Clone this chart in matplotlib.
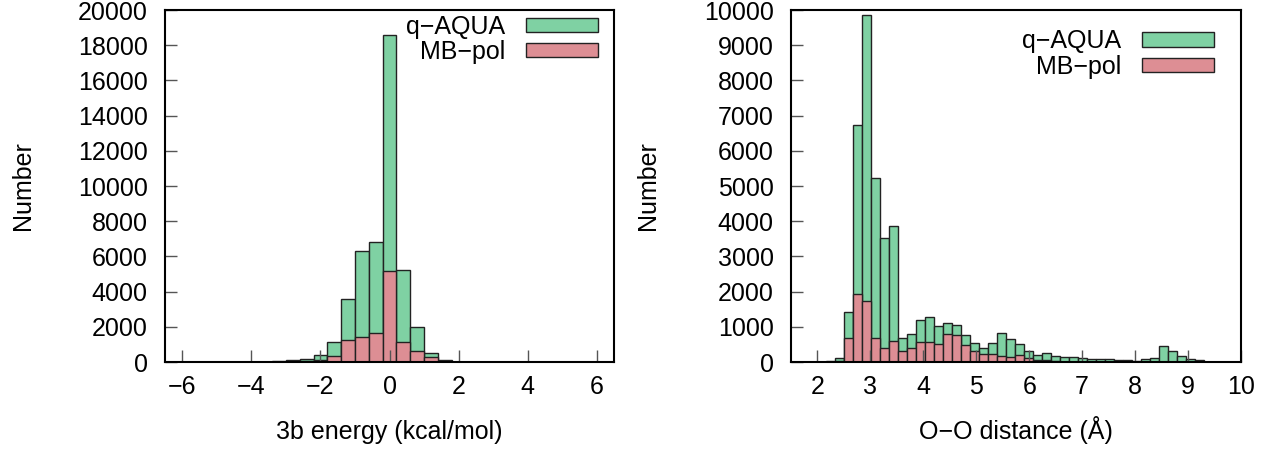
import matplotlib.pyplot as plt
import numpy as np

plt.rcParams['font.family'] = ['Liberation Sans', 'DejaVu Sans']

# left panel: 3b energy histogram (bin centers, width 0.4)
e_centers = [-4.0, -3.6, -3.2, -2.8, -2.4, -2.0, -1.6, -1.2, -0.8, -0.4, 0.0, 0.4, 0.8, 1.2, 1.6]
e_qaqua = [15, 25, 40, 110, 170, 380, 1120, 3560, 6290, 6800, 18580, 5230, 1970, 490, 95]
e_mbpol = [5, 10, 15, 40, 55, 95, 320, 1230, 1440, 1650, 5150, 1140, 610, 265, 50]

# right panel: O-O distance histogram (left bin edges, width 0.17)
d_edges = [2.17, 2.34, 2.51, 2.68, 2.85, 3.02, 3.19, 3.36, 3.53, 3.70, 3.87, 4.04, 4.21, 4.38,
           4.55, 4.72, 4.89, 5.06, 5.23, 5.40, 5.57, 5.74, 5.91, 6.08, 6.25, 6.42, 6.59, 6.76,
           6.93, 7.10, 7.27, 7.44, 7.61, 7.78, 7.95, 8.12, 8.29, 8.46, 8.63, 8.80, 8.97, 9.14]
d_qaqua = [30, 100, 1430, 6720, 9860, 5230, 3520, 3870, 690, 790, 1200, 1270, 1025, 1120,
           1045, 760, 530, 410, 530, 825, 645, 500, 310, 200, 245, 160, 130, 130,
           115, 95, 85, 75, 50, 50, 30, 75, 105, 455, 300, 160, 75, 50]
d_mbpol = [10, 40, 670, 1935, 1730, 690, 410, 600, 320, 390, 560, 560, 520, 790,
           760, 475, 310, 240, 220, 170, 140, 190, 100, 50, 50, 20, 10, 10,
           5, 5, 5, 5, 3, 3, 2, 3, 5, 10, 8, 5, 3, 2]

green = '#7fd1a3'
red = '#dd8e94'
fs = 18

fig = plt.figure(figsize=(12.82, 4.54), dpi=100)
ax1 = fig.add_axes([165 / 1282, 92 / 454, 449 / 1282, 352 / 454])
ax2 = fig.add_axes([791 / 1282, 92 / 454, 450 / 1282, 352 / 454])

ax1.bar(e_centers, e_qaqua, width=0.4, color=green, edgecolor='#222222', linewidth=1, label='q\u2212AQUA')
ax1.bar(e_centers, e_mbpol, width=0.4, color=red, edgecolor='#222222', linewidth=1, label='MB\u2212pol')
ax1.set_xlim(-6.5, 6.5)
ax1.set_ylim(0, 20000)
ax1.set_xticks([-6, -4, -2, 0, 2, 4, 6])
ax1.set_yticks(np.arange(0, 20001, 2000))
ax1.set_xlabel('3b energy (kcal/mol)')
ax1.set_ylabel('Number')

ax2.bar(d_edges, d_qaqua, width=0.17, align='edge', color=green, edgecolor='#222222', linewidth=1, label='q\u2212AQUA')
ax2.bar(d_edges, d_mbpol, width=0.17, align='edge', color=red, edgecolor='#222222', linewidth=1, label='MB\u2212pol')
ax2.set_xlim(1.5, 10)
ax2.set_ylim(0, 10000)
ax2.set_xticks([2, 3, 4, 5, 6, 7, 8, 9, 10])
ax2.set_yticks(np.arange(0, 10001, 1000))
ax2.set_xlabel('O\u2212O distance (\u00c5)')
ax2.set_ylabel('Number')

leg_pos = {ax1: (0.9637, 0.986), ax2: (0.9407, 0.945)}
for ax in (ax1, ax2):
    for s in ax.spines.values():
        s.set_linewidth(1.5)
    ax.tick_params(direction='in', length=8.5, width=1, color='#555555', labelsize=fs)
    ax.tick_params(axis='x', pad=9.5)
    ax.tick_params(axis='y', pad=12.5)
    ax.xaxis.label.set_size(fs)
    ax.yaxis.label.set_size(fs)
    ax.xaxis.label.set_va('baseline')
    ax.xaxis.set_label_coords(0.5, -0.219)
    ax.yaxis.set_label_coords(-0.29, 0.5)
    ax.legend(loc='upper right', bbox_to_anchor=leg_pos[ax], frameon=False, markerfirst=False,
              fontsize=fs, handlelength=2.88, handleheight=0.5, handletextpad=0.83,
              labelspacing=0.05, borderpad=0, borderaxespad=0)

fig.savefig('out.png', dpi=100)
